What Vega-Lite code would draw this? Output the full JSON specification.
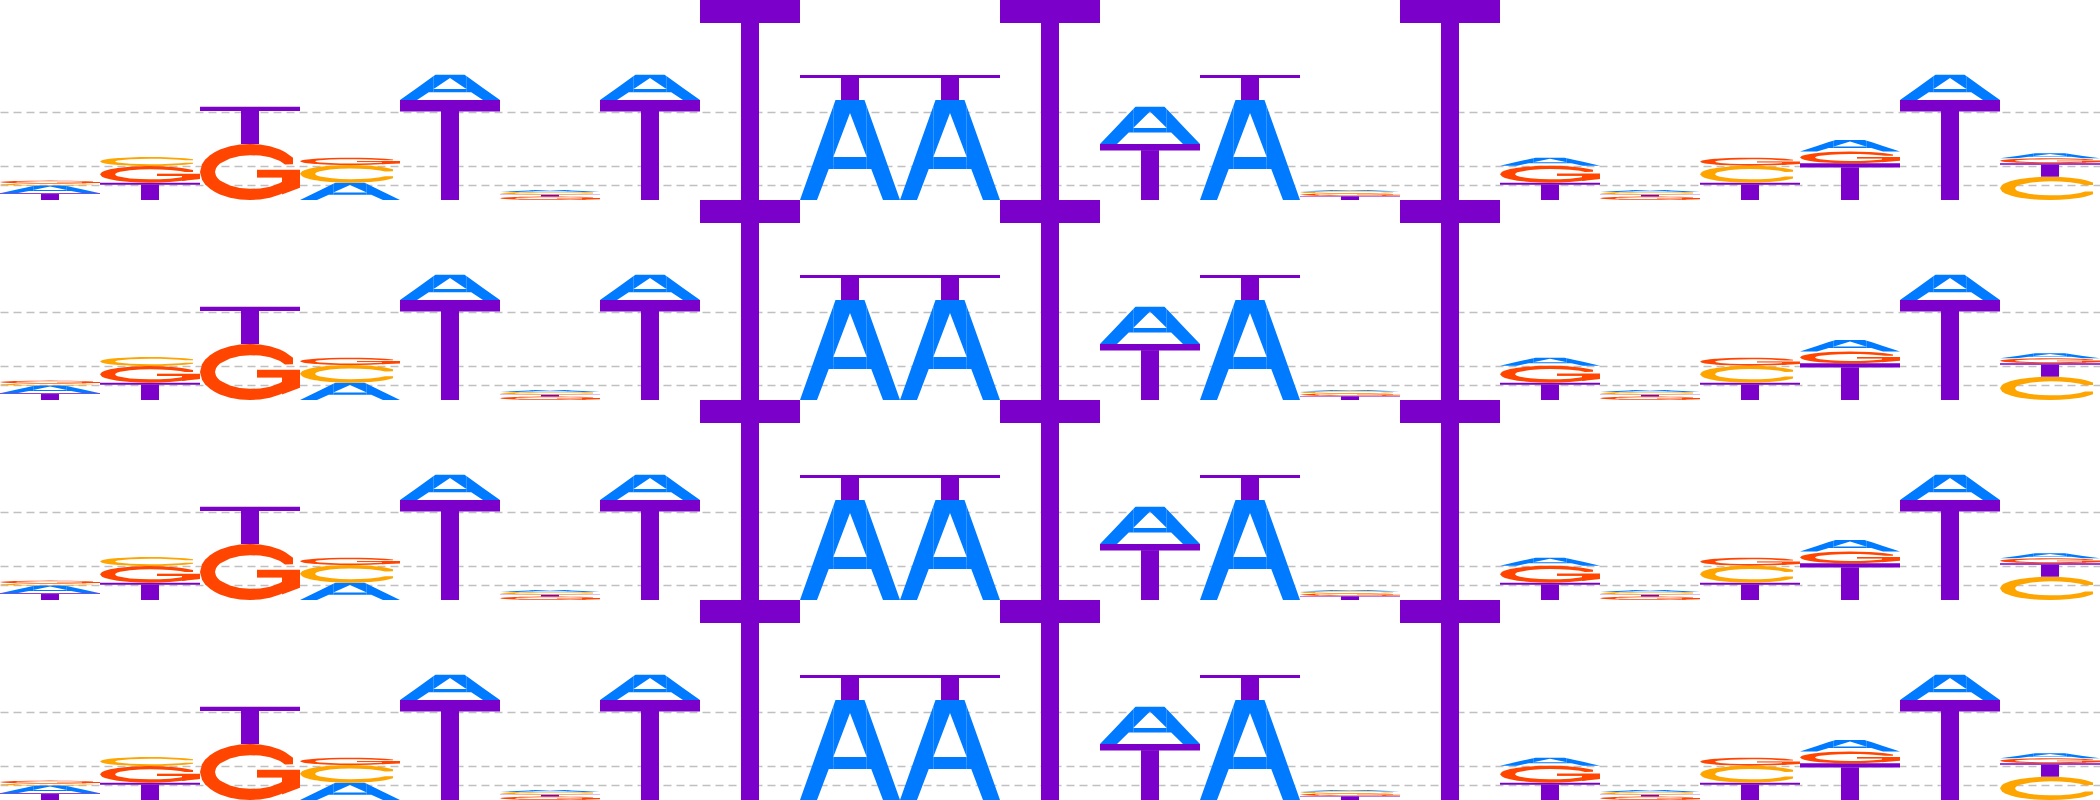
{
  "$schema": "https://vega.github.io/schema/vega-lite/v6.json",
  "padding": 0,
  "background": "white",
  "spacing": 0,
  "config": {"view": {"stroke": null}, "concat": {"spacing": 0}},
  "data": {"values": [
    {"pos": 1, "letter": "T", "h": 0.067, "k": 1},
    {"pos": 1, "letter": "A", "h": 0.077, "k": 2},
    {"pos": 1, "letter": "C", "h": 0.02, "k": 3},
    {"pos": 1, "letter": "G", "h": 0.03, "k": 4},
    {"pos": 2, "letter": "T", "h": 0.173, "k": 1},
    {"pos": 2, "letter": "G", "h": 0.167, "k": 2},
    {"pos": 2, "letter": "C", "h": 0.09, "k": 3},
    {"pos": 3, "letter": "G", "h": 0.56, "k": 1},
    {"pos": 3, "letter": "T", "h": 0.373, "k": 2},
    {"pos": 4, "letter": "A", "h": 0.173, "k": 1},
    {"pos": 4, "letter": "C", "h": 0.177, "k": 2},
    {"pos": 4, "letter": "G", "h": 0.073, "k": 3},
    {"pos": 5, "letter": "T", "h": 1.0, "k": 1},
    {"pos": 5, "letter": "A", "h": 0.253, "k": 2},
    {"pos": 6, "letter": "G", "h": 0.035, "k": 1},
    {"pos": 6, "letter": "T", "h": 0.02, "k": 2},
    {"pos": 6, "letter": "C", "h": 0.025, "k": 3},
    {"pos": 6, "letter": "A", "h": 0.02, "k": 4},
    {"pos": 7, "letter": "T", "h": 1.0, "k": 1},
    {"pos": 7, "letter": "A", "h": 0.253, "k": 2},
    {"pos": 8, "letter": "T", "h": 2.0, "k": 1},
    {"pos": 9, "letter": "A", "h": 1.0, "k": 1},
    {"pos": 9, "letter": "T", "h": 0.25, "k": 2},
    {"pos": 10, "letter": "A", "h": 1.0, "k": 1},
    {"pos": 10, "letter": "T", "h": 0.25, "k": 2},
    {"pos": 11, "letter": "T", "h": 2.0, "k": 1},
    {"pos": 12, "letter": "T", "h": 0.56, "k": 1},
    {"pos": 12, "letter": "A", "h": 0.373, "k": 2},
    {"pos": 13, "letter": "A", "h": 1.0, "k": 1},
    {"pos": 13, "letter": "T", "h": 0.25, "k": 2},
    {"pos": 14, "letter": "T", "h": 0.04, "k": 1},
    {"pos": 14, "letter": "G", "h": 0.025, "k": 2},
    {"pos": 14, "letter": "C", "h": 0.02, "k": 3},
    {"pos": 14, "letter": "A", "h": 0.015, "k": 4},
    {"pos": 15, "letter": "T", "h": 2.0, "k": 1},
    {"pos": 16, "letter": "T", "h": 0.173, "k": 1},
    {"pos": 16, "letter": "G", "h": 0.17, "k": 2},
    {"pos": 16, "letter": "A", "h": 0.08, "k": 3},
    {"pos": 17, "letter": "G", "h": 0.035, "k": 1},
    {"pos": 17, "letter": "T", "h": 0.02, "k": 2},
    {"pos": 17, "letter": "C", "h": 0.025, "k": 3},
    {"pos": 17, "letter": "A", "h": 0.02, "k": 4},
    {"pos": 18, "letter": "T", "h": 0.173, "k": 1},
    {"pos": 18, "letter": "C", "h": 0.17, "k": 2},
    {"pos": 18, "letter": "G", "h": 0.08, "k": 3},
    {"pos": 19, "letter": "T", "h": 0.367, "k": 1},
    {"pos": 19, "letter": "G", "h": 0.117, "k": 2},
    {"pos": 19, "letter": "A", "h": 0.117, "k": 3},
    {"pos": 20, "letter": "T", "h": 1.0, "k": 1},
    {"pos": 20, "letter": "A", "h": 0.253, "k": 2},
    {"pos": 21, "letter": "C", "h": 0.233, "k": 1},
    {"pos": 21, "letter": "T", "h": 0.134, "k": 2},
    {"pos": 21, "letter": "G", "h": 0.05, "k": 3},
    {"pos": 21, "letter": "A", "h": 0.05, "k": 4}
  ]},
  "transform": [
    {"stack": "h", "groupby": ["pos"], "sort": [{"field": "k", "order": "ascending"}], "as": ["y0", "y1"]},
    {"calculate": "datum.letter=='T' ? [[0,0,1,0.885],[0,1,1,0.885],[1,0.41,0.89,0],[1,0.59,0.89,0]] : datum.letter=='A' ? [[0,0,0,0],[0,0.17,0.479,0],[0,0.2876,0.81,0.31],[0,0.333,0.938,0.31],[1,0.333,0.43,0.31],[1,0.667,0.43,0.31],[2,0.333,0.938,0.43],[2,0.355,1,0.488],[2,0.5,1,0.87],[2,0.645,1,0.488],[2,0.667,0.938,0.43],[3,0.667,0.938,0.31],[3,0.7124,0.81,0.31],[3,0.83,0.479,0],[3,1,0,0]] : datum.letter=='C' ? [[0,0,0.5,0.5],[0,0.02,0.64,0.36],[0,0.05,0.718,0.282],[0,0.1,0.8,0.2],[0,0.15,0.857,0.143],[1,0.15,0.857,0.5],[1,0.16,0.867,0.569],[1,0.175,0.88,0.609],[1,0.2,0.9,0.651],[1,0.3,0.958,0.741],[1,0.4,0.99,0.784],[1,0.5,1,0.8],[1,0.6,0.99,0.793],[1,0.7,0.958,0.762],[1,0.8,0.9,0.696],[1,0.85,0.857,0.636],[1,0.93,0.755,0.64],[2,0.15,0.5,0.143],[2,0.16,0.431,0.133],[2,0.175,0.391,0.12],[2,0.2,0.349,0.1],[2,0.3,0.259,0.042],[2,0.4,0.216,0.01],[2,0.5,0.2,0],[2,0.6,0.207,0.01],[2,0.7,0.238,0.042],[2,0.8,0.304,0.1],[2,0.85,0.364,0.143],[2,0.93,0.36,0.245]] : [[0,0,0.5,0.5],[0,0.02,0.64,0.36],[0,0.05,0.718,0.282],[0,0.1,0.8,0.2],[0,0.15,0.857,0.143],[1,0.15,0.857,0.5],[1,0.16,0.867,0.569],[1,0.175,0.88,0.609],[1,0.2,0.9,0.651],[1,0.3,0.958,0.741],[1,0.4,0.99,0.784],[1,0.5,1,0.8],[1,0.6,0.99,0.793],[1,0.7,0.958,0.762],[1,0.8,0.9,0.696],[1,0.85,0.857,0.636],[1,0.93,0.755,0.64],[2,0.15,0.5,0.143],[2,0.16,0.431,0.133],[2,0.175,0.391,0.12],[2,0.2,0.349,0.1],[2,0.3,0.259,0.042],[2,0.4,0.216,0.01],[2,0.5,0.2,0],[2,0.6,0.207,0.01],[2,0.7,0.238,0.042],[2,0.8,0.304,0.1],[2,0.86,0.37,0.15],[3,0.82,0.54,0.1],[3,1,0.54,0.22],[4,0.57,0.54,0.4],[4,0.82,0.54,0.4]]", "as": "v"},
    {"flatten": ["v"]},
    {"calculate": "datum.pos - 0.5 + datum.v[1]", "as": "gx"},
    {"calculate": "datum.y0 + datum.v[2] * datum.h", "as": "yt"},
    {"calculate": "datum.y0 + datum.v[3] * datum.h", "as": "yb"},
    {"calculate": "datum.pos + datum.letter + '_' + datum.v[0]", "as": "pid"}
  ],
  "vconcat": [
    {
      "width": 2100, "height": 200,
      "mark": {"type": "area", "opacity": 1, "interpolate": "linear", "clip": false},
      "encoding": {
        "x": {"field": "gx", "type": "quantitative", "scale": {"domain": [0.5, 21.5], "nice": false, "zero": false}, "axis": null},
        "y": {"field": "yt", "type": "quantitative", "stack": null, "scale": {"domain": [0, 2], "nice": false}, "axis": {"values": [0.15, 0.34, 0.88], "grid": true, "gridDash": [8, 5], "gridColor": "#c0c0c0", "gridWidth": 1.5, "labels": false, "ticks": false, "domain": false, "title": null, "minExtent": 0, "maxExtent": 0}},
        "y2": {"field": "yb"},
        "color": {"field": "letter", "type": "nominal", "scale": {"domain": ["A", "C", "G", "T"], "range": ["#007AFF", "#FFA500", "#FF4500", "#7B00C9"]}, "legend": null},
        "detail": {"field": "pid", "type": "nominal"}
      }
    },
    {
      "width": 2100, "height": 200,
      "mark": {"type": "area", "opacity": 1, "interpolate": "linear", "clip": false},
      "encoding": {
        "x": {"field": "gx", "type": "quantitative", "scale": {"domain": [0.5, 21.5], "nice": false, "zero": false}, "axis": null},
        "y": {"field": "yt", "type": "quantitative", "stack": null, "scale": {"domain": [0, 2], "nice": false}, "axis": {"values": [0.15, 0.34, 0.88], "grid": true, "gridDash": [8, 5], "gridColor": "#c0c0c0", "gridWidth": 1.5, "labels": false, "ticks": false, "domain": false, "title": null, "minExtent": 0, "maxExtent": 0}},
        "y2": {"field": "yb"},
        "color": {"field": "letter", "type": "nominal", "scale": {"domain": ["A", "C", "G", "T"], "range": ["#007AFF", "#FFA500", "#FF4500", "#7B00C9"]}, "legend": null},
        "detail": {"field": "pid", "type": "nominal"}
      }
    },
    {
      "width": 2100, "height": 200,
      "mark": {"type": "area", "opacity": 1, "interpolate": "linear", "clip": false},
      "encoding": {
        "x": {"field": "gx", "type": "quantitative", "scale": {"domain": [0.5, 21.5], "nice": false, "zero": false}, "axis": null},
        "y": {"field": "yt", "type": "quantitative", "stack": null, "scale": {"domain": [0, 2], "nice": false}, "axis": {"values": [0.15, 0.34, 0.88], "grid": true, "gridDash": [8, 5], "gridColor": "#c0c0c0", "gridWidth": 1.5, "labels": false, "ticks": false, "domain": false, "title": null, "minExtent": 0, "maxExtent": 0}},
        "y2": {"field": "yb"},
        "color": {"field": "letter", "type": "nominal", "scale": {"domain": ["A", "C", "G", "T"], "range": ["#007AFF", "#FFA500", "#FF4500", "#7B00C9"]}, "legend": null},
        "detail": {"field": "pid", "type": "nominal"}
      }
    },
    {
      "width": 2100, "height": 200,
      "mark": {"type": "area", "opacity": 1, "interpolate": "linear", "clip": false},
      "encoding": {
        "x": {"field": "gx", "type": "quantitative", "scale": {"domain": [0.5, 21.5], "nice": false, "zero": false}, "axis": null},
        "y": {"field": "yt", "type": "quantitative", "stack": null, "scale": {"domain": [0, 2], "nice": false}, "axis": {"values": [0.15, 0.34, 0.88], "grid": true, "gridDash": [8, 5], "gridColor": "#c0c0c0", "gridWidth": 1.5, "labels": false, "ticks": false, "domain": false, "title": null, "minExtent": 0, "maxExtent": 0}},
        "y2": {"field": "yb"},
        "color": {"field": "letter", "type": "nominal", "scale": {"domain": ["A", "C", "G", "T"], "range": ["#007AFF", "#FFA500", "#FF4500", "#7B00C9"]}, "legend": null},
        "detail": {"field": "pid", "type": "nominal"}
      }
    }
  ]
}
